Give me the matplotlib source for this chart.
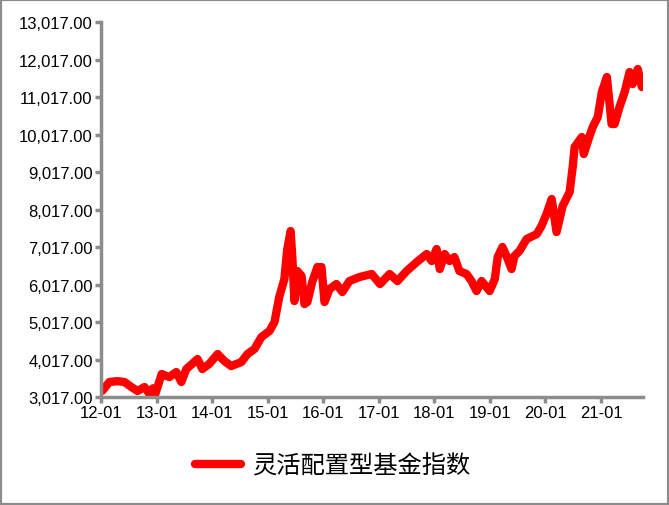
import matplotlib.pyplot as plt
import matplotlib.dates as mdates
from matplotlib.patches import Rectangle
import pandas as pd

plt.rcParams['font.family'] = ['Liberation Sans', 'DejaVu Sans']

# 灵活配置型基金指数
fechas = ['2012-01-10', '2012-02-25', '2012-04-18', '2012-06-03', '2012-07-19', '2012-08-28',
          '2012-10-13', '2012-11-15', '2012-12-08', '2012-12-20', '2013-02-03', '2013-03-25',
          '2013-05-10', '2013-06-12', '2013-07-15', '2013-09-27', '2013-10-28', '2013-12-12',
          '2014-02-06', '2014-03-22', '2014-05-06', '2014-07-12', '2014-08-21', '2014-10-06',
          '2014-11-21', '2015-01-13', '2015-02-15', '2015-03-18', '2015-04-21', '2015-05-10',
          '2015-06-01', '2015-06-13', '2015-06-26', '2015-07-15', '2015-08-12', '2015-08-31',
          '2015-09-19', '2015-10-21', '2015-11-24', '2015-12-21', '2016-01-10', '2016-02-12',
          '2016-03-28', '2016-05-06', '2016-06-22', '2016-08-27', '2016-11-15', '2017-01-09',
          '2017-03-13', '2017-05-04', '2017-07-03', '2017-09-08', '2017-11-12', '2017-12-15',
          '2018-01-16', '2018-02-06', '2018-03-10', '2018-04-12', '2018-05-13', '2018-06-15',
          '2018-08-01', '2018-09-03', '2018-10-06', '2018-11-08', '2018-12-31', '2019-02-03',
          '2019-02-22', '2019-03-25', '2019-04-21', '2019-05-24', '2019-06-12', '2019-07-15',
          '2019-08-31', '2019-11-06', '2019-12-07', '2020-01-09', '2020-02-12', '2020-03-15',
          '2020-04-24', '2020-06-09', '2020-06-30', '2020-07-12', '2020-08-28', '2020-09-10',
          '2020-10-18', '2020-11-08', '2020-12-11', '2021-01-07', '2021-02-09', '2021-03-12',
          '2021-04-01', '2021-05-03', '2021-06-06', '2021-07-08', '2021-07-28', '2021-08-31',
          '2021-09-27']
valores = [3185, 3417, 3440, 3417, 3283, 3177,
           3283, 3097, 3250, 3060, 3630, 3550,
           3683, 3417, 3763, 4030, 3763, 3897,
           4163, 3977, 3843, 3950, 4163, 4297,
           4617, 4777, 5017, 5683, 6163, 6963,
           7443, 6697, 5577, 6377, 6243, 5497,
           5550, 6083, 6483, 6483, 5550, 5897,
           6030, 5817, 6110, 6217, 6297, 6030,
           6297, 6110, 6377, 6617, 6830, 6643,
           6963, 6430, 6830, 6643, 6750, 6377,
           6297, 6110, 5843, 6110, 5843, 6163,
           6750, 7017, 6777, 6430, 6777, 6910,
           7230, 7363, 7577, 7897, 8297, 7417,
           8110, 8483, 9177, 9683, 9950, 9497,
           9977, 10217, 10483, 11150, 11550, 10297,
           10297, 10750, 11150, 11683, 11363, 11763,
           11283]
serie = '灵活配置型基金指数'

fig = plt.figure(figsize=(6.69, 5.06), dpi=100)
ax = fig.add_axes([0.151, 0.2134, 0.81, 0.7411])

ax.plot(pd.to_datetime(fechas), valores, color='#ff0000', linewidth=6,
        solid_capstyle='round', solid_joinstyle='round', label=serie)

ax.set_ylim(3017, 13017)
ax.set_yticks(range(3017, 13018, 1000))
ax.yaxis.set_major_formatter(plt.FuncFormatter(lambda v, p: f'{v:,.2f}'))
ax.set_xlim(pd.Timestamp('2012-01-01'), pd.Timestamp('2021-10-04'))
ax.xaxis.set_major_locator(mdates.YearLocator())
ax.xaxis.set_major_formatter(mdates.DateFormatter('%y-%m'))

gris = '#8c8c8c'
for s in ['top', 'right']:
    ax.spines[s].set_visible(False)
for s in ['left', 'bottom']:
    ax.spines[s].set_color(gris)
    ax.spines[s].set_linewidth(2.5)
ax.tick_params(axis='both', color=gris, width=2.5, length=4, labelsize=12,
               labelcolor='black', pad=2)

fig.legend(loc='center', bbox_to_anchor=(0.497, 0.079), frameon=False,
           prop={'family': ['Noto Sans CJK SC', 'DejaVu Sans'], 'size': 17.5},
           handlelength=1.9, handletextpad=0.45)

fig.patches.append(Rectangle((0, 0), 1, 1, transform=fig.transFigure, fill=False,
                             edgecolor=gris, linewidth=3))

fig.savefig('out.png', dpi=100)
